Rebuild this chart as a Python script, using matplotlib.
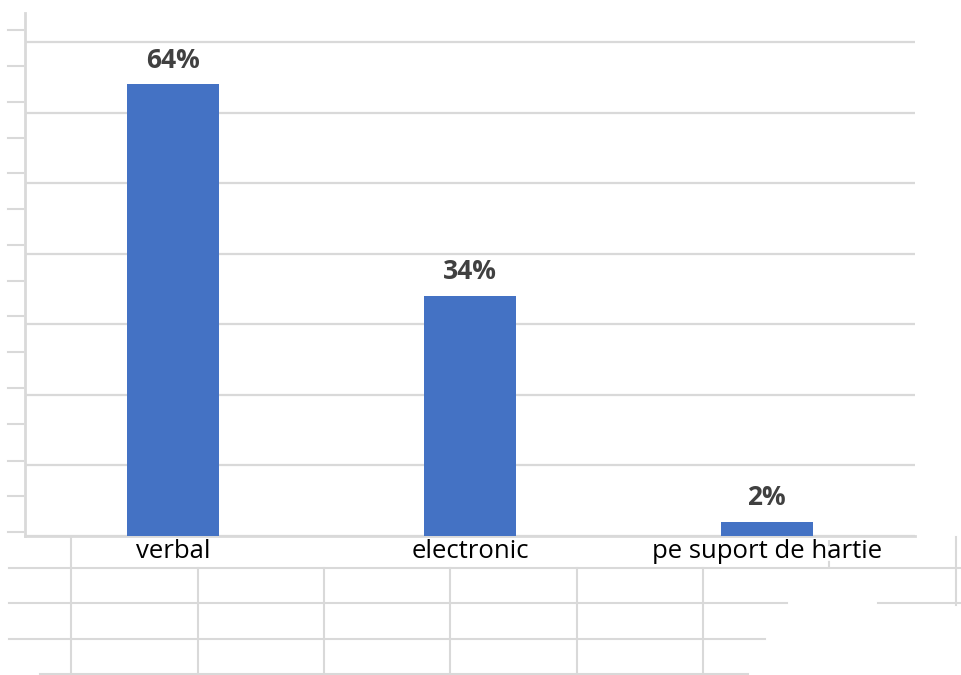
import matplotlib
matplotlib.use("Agg")
import matplotlib.pyplot as plt
from matplotlib.lines import Line2D

plt.rcParams['font.family'] = ['Open Sans', 'DejaVu Sans']

##-----------------------------
## data
##-----------------------------
categories = ["verbal", "electronic", "pe suport de hartie"]
values = [64, 34, 2]
value_labels = ["64%", "34%", "2%"]
grid_ticks = [0, 10, 20, 30, 40, 50, 60, 70]

W, H = 962, 675
grid_col = "#d9d9d9"

fig = plt.figure(figsize=(W / 100, H / 100), dpi=100)
fig.patch.set_facecolor("white")

## axes box in pixel terms: left 25, right 915, bottom 536, top 13
ax = fig.add_axes([25 / W, (H - 536) / H, (915 - 25) / W, (536 - 13) / H])
ax.set_xlim(-0.5, len(categories) - 0.5)
ax.set_ylim(0, 74.1)

xs = list(range(len(categories)))
bars = ax.bar(xs, values, width=0.31, color="#4472C4", zorder=3)

for b, lab in zip(bars, value_labels):
    ax.annotate(lab, (b.get_x() + b.get_width() / 2, b.get_height()),
                xytext=(0, 12), textcoords="offset points",
                ha="center", va="baseline", fontsize=19, fontweight="bold",
                color="#404040", zorder=4)

## gridlines
ax.set_yticks(grid_ticks)
ax.yaxis.grid(True, color=grid_col, linewidth=1.6, zorder=0)
ax.tick_params(axis="y", length=0, labelleft=False)

ax.set_xticks(xs)
ax.set_xticklabels(categories, fontsize=18.5, color="black")
ax.tick_params(axis="x", length=0, pad=2)

for s in ["top", "right"]:
    ax.spines[s].set_visible(False)
ax.spines["left"].set_color(grid_col)
ax.spines["left"].set_linewidth(2)
ax.spines["bottom"].set_color(grid_col)
ax.spines["bottom"].set_linewidth(2)

##-----------------------------
## spreadsheet cell lines around the chart
##-----------------------------
def hline(y, x0, x1, **kw):
    fig.add_artist(Line2D([x0 / W, x1 / W], [1 - y / H, 1 - y / H],
                          color=grid_col, linewidth=1.5, zorder=0, **kw))

def vline(x, y0, y1, **kw):
    fig.add_artist(Line2D([x / W, x / W], [1 - y0 / H, 1 - y1 / H],
                          color=grid_col, linewidth=1.5, zorder=0, **kw))

## row stubs left of the chart
for y in [30, 66, 102, 138, 173, 209, 245, 281, 316, 352, 388, 424, 461, 496, 532]:
    hline(y, 8, 23)

hline(568, 9, 962)
hline(603, 9, 787)
hline(603, 878, 962)
hline(639, 9, 765)
hline(674, 40, 748)

vline(71, 537, 675)
for x in [198, 324, 450, 577, 703]:
    vline(x, 568, 675)
vline(956, 537, 605)
## page break marker
vline(829, 540, 570, linestyle=(0, (3, 2)))

fig.savefig("out.png", dpi=100)
